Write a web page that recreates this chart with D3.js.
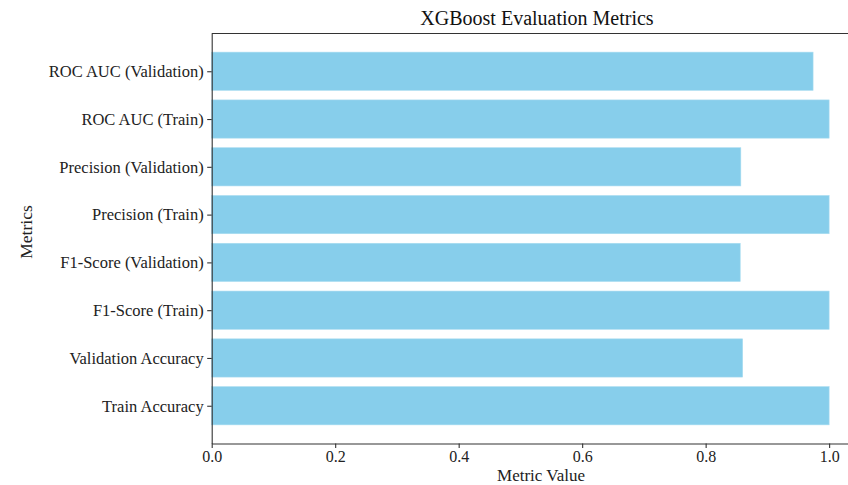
<!DOCTYPE html>
<html>
<head>
<meta charset="utf-8">
<script src="https://cdn.jsdelivr.net/npm/d3@7"></script>
<style>
  html, body { margin: 0; padding: 0; background: #fff; }
  svg { display: block; font-family: "Liberation Serif", "Times New Roman", serif; }
</style>
</head>
<body>
<svg id="chart" width="848" height="485"></svg>
<script>
const categories = [
  "Train Accuracy",
  "Validation Accuracy",
  "F1-Score (Train)",
  "F1-Score (Validation)",
  "Precision (Train)",
  "Precision (Validation)",
  "ROC AUC (Train)",
  "ROC AUC (Validation)"
];
const values = [1.0, 0.860, 1.0, 0.856, 1.0, 0.857, 1.0, 0.974];
const xTicks = [0.0, 0.2, 0.4, 0.6, 0.8, 1.0];

(function () {
const svg = d3.select("#chart");
const mLeft = 211.7, mRight = 860, mTop = 33.5, mBottom = 443.5;

const x = d3.scaleLinear().domain([0, 1.05]).range([mLeft, mRight]);
const y = d3.scaleLinear().domain([-0.79, categories.length - 1 + 0.79]).range([mBottom, mTop]);
const barH = 0.8;

svg.append("g").selectAll("rect.bar")
  .data(values)
  .enter().append("rect")
  .attr("class", "bar")
  .attr("x", x(0))
  .attr("y", (d, i) => y(i + barH / 2))
  .attr("width", d => x(d) - x(0))
  .attr("height", (d, i) => y(i - barH / 2) - y(i + barH / 2))
  .attr("fill", "#87CEEB")
  .attr("stroke", "#a9dcf0")
  .attr("stroke-width", 0.6);

const xAxis = d3.axisBottom(x).tickValues(xTicks).tickFormat(d3.format(".1f")).tickSize(4.5).tickSizeOuter(0);
const xg = svg.append("g").attr("transform", `translate(0,${mBottom})`).call(xAxis);
xg.select(".domain").attr("stroke", "#333").attr("stroke-width", 1.1);
xg.selectAll(".tick line").attr("stroke", "#333").attr("stroke-width", 1.1);
xg.selectAll(".tick text").attr("font-family", "Liberation Serif, serif").attr("font-size", 16).attr("fill", "#222").attr("y", 6).attr("dy", "0.8em");

const yAxis = d3.axisLeft(y).tickValues(d3.range(categories.length)).tickFormat(i => categories[i]).tickSize(4.5).tickSizeOuter(0);
const yg = svg.append("g").attr("transform", `translate(${mLeft},0)`).call(yAxis);
yg.select(".domain").attr("stroke", "#333").attr("stroke-width", 1.1);
yg.selectAll(".tick line").attr("stroke", "#333").attr("stroke-width", 1.1);
yg.selectAll(".tick text").attr("font-family", "Liberation Serif, serif").attr("font-size", 16.5).attr("fill", "#222").attr("x", -8);

svg.append("line").attr("x1", mLeft).attr("x2", mRight).attr("y1", mTop).attr("y2", mTop)
  .attr("stroke", "#333").attr("stroke-width", 1.1);

svg.append("text").attr("x", 537).attr("y", 25).attr("text-anchor", "middle")
  .attr("font-size", 20).attr("fill", "#111").text("XGBoost Evaluation Metrics");

svg.append("text").attr("x", 541).attr("y", 481).attr("text-anchor", "middle")
  .attr("font-size", 17).attr("fill", "#222").text("Metric Value");

svg.append("text").attr("transform", `translate(32,232) rotate(-90)`)
  .attr("text-anchor", "middle").attr("font-size", 17.5).attr("fill", "#222").text("Metrics");
})();
</script>
</body>
</html>
